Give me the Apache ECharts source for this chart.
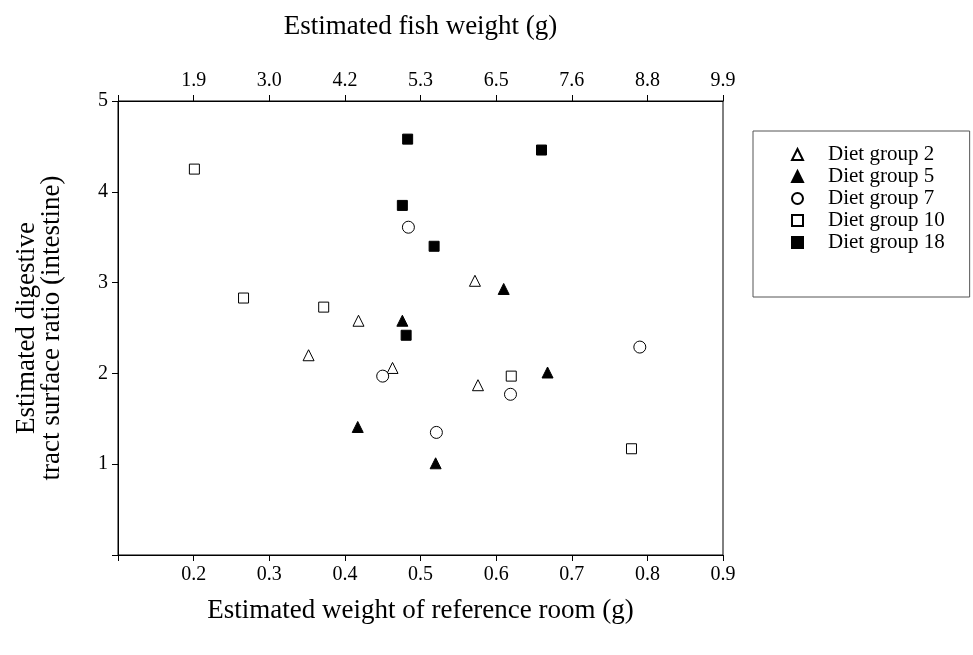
<!DOCTYPE html>
<html>
<head>
<meta charset="utf-8">
<script src="https://cdn.jsdelivr.net/npm/echarts@6/dist/echarts.min.js"></script>
<style>
  html, body { margin: 0; padding: 0; background: #fff; }
  #chart { width: 973px; height: 655px; }
</style>
</head>
<body>
<div id="chart"></div>
<script>
// 값은 그림에서 읽은 추정치 (x: 참조실 무게 g, y: 표면적 비)
const topTickLabels = ['1.9', '3.0', '4.2', '5.3', '6.5', '7.6', '8.8', '9.9'];

const diet2  = [[0.352, 2.20], [0.418, 2.58], [0.463, 2.06], [0.572, 3.02], [0.576, 1.87]];
const diet5  = [[0.417, 1.41], [0.476, 2.58], [0.520, 1.01], [0.610, 2.93], [0.668, 2.01]];
const diet7  = [[0.450, 1.97], [0.484, 3.61], [0.521, 1.35], [0.619, 1.77], [0.790, 2.29]];
const diet10 = [[0.201, 4.25], [0.266, 2.83], [0.372, 2.73], [0.620, 1.97], [0.779, 1.17]];
const diet18 = [[0.476, 3.85], [0.481, 2.42], [0.483, 4.58], [0.518, 3.40], [0.660, 4.46]];

const FONT = '"Liberation Serif", "Times New Roman", serif';

// [공통] 기호 스타일: 흰 속 + 검은 테두리 / 검은 채움
function makeSeries(name, data, symbol, filled, size) {
  return {
    name, type: 'scatter', data, symbol, symbolSize: size,
    itemStyle: filled
      ? { color: '#000', borderColor: '#000', borderWidth: 1, opacity: 1 }
      : { color: '#fff', borderColor: '#000', borderWidth: 1, opacity: 1 },
    emphasis: { disabled: true }
  };
}

const chart = echarts.init(document.getElementById('chart'));
chart.setOption({
  animation: false,
  textStyle: { fontFamily: FONT, color: '#000' },
  grid: { left: 118, right: 250, top: 101, bottom: 100, show: true, borderColor: '#000', borderWidth: 1 },
  legend: {
    orient: 'vertical', left: 753, top: 131,
    padding: [13, 25, 44, 38],
    itemWidth: 11, itemHeight: 11, itemGap: 1,
    borderColor: '#555', borderWidth: 1,
    textStyle: { fontFamily: FONT, fontSize: 21, color: '#000', padding: [0, 0, 0, 20] },
    selectedMode: false
  },
  xAxis: [
    {
      type: 'value', position: 'bottom', min: 0.1, max: 0.9, interval: 0.1,
      name: 'Estimated weight of reference room (g)', nameLocation: 'middle', nameGap: 42,
      nameTextStyle: { fontFamily: FONT, fontSize: 27, color: '#000' },
      axisLine: { lineStyle: { color: '#000' } },
      axisTick: { length: 6, lineStyle: { color: '#000' } },
      axisLabel: { fontFamily: FONT, fontSize: 20, color: '#000', margin: 10,
        formatter: v => (Math.abs(v - 0.1) < 1e-6 ? '' : v.toFixed(1)) },
      splitLine: { show: false }
    },
    {
      type: 'value', position: 'top', min: 0.1, max: 0.9, interval: 0.1,
      name: 'Estimated fish weight (g)', nameLocation: 'middle', nameGap: 61,
      nameTextStyle: { fontFamily: FONT, fontSize: 27, color: '#000' },
      axisLine: { lineStyle: { color: '#000' } },
      axisTick: { length: 6, lineStyle: { color: '#000' } },
      axisLabel: { fontFamily: FONT, fontSize: 20, color: '#000', margin: 10,
        formatter: v => {
          const i = Math.round((v - 0.2) * 10);
          return i >= 0 && i < topTickLabels.length ? topTickLabels[i] : '';
        } },
      splitLine: { show: false }
    }
  ],
  yAxis: {
    type: 'value', min: 0, max: 5, interval: 1,
    name: 'Estimated digestive\ntract surface ratio (intestine)', nameLocation: 'middle', nameGap: 54,
    nameRotate: 90,
    nameTextStyle: { fontFamily: FONT, fontSize: 27, color: '#000', lineHeight: 25 },
    axisLine: { show: true, lineStyle: { color: '#000' } },
    axisTick: { show: true, length: 6, lineStyle: { color: '#000' } },
    axisLabel: { fontFamily: FONT, fontSize: 20, color: '#000', margin: 10,
      formatter: v => (v === 0 ? '' : String(v)) },
    splitLine: { show: false }
  },
  series: [
    makeSeries('Diet group 2', diet2, 'triangle', false, 11),
    makeSeries('Diet group 5', diet5, 'triangle', true, 11),
    makeSeries('Diet group 7', diet7, 'circle', false, 12),
    makeSeries('Diet group 10', diet10, 'rect', false, 10),
    makeSeries('Diet group 18', diet18, 'rect', true, 10)
  ]
});
</script>
</body>
</html>
